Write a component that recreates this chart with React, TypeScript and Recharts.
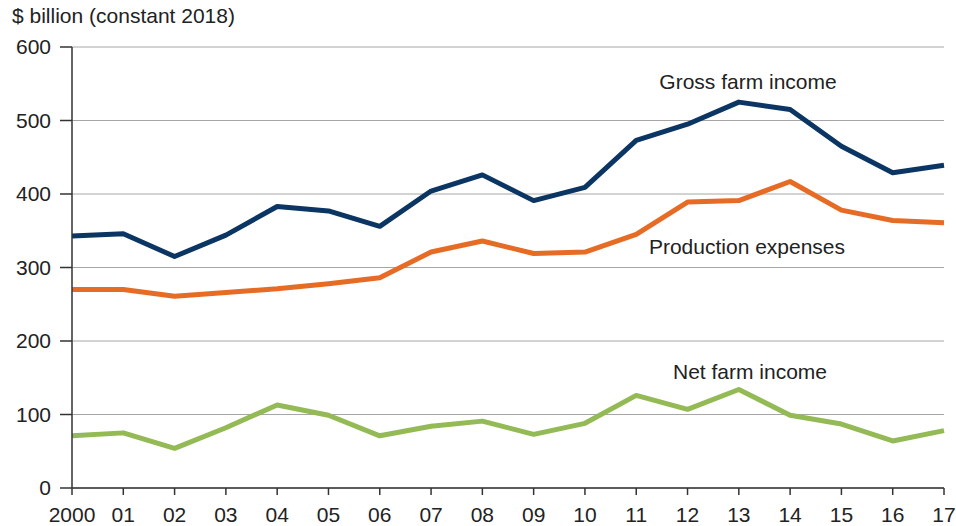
import { LineChart, Line, XAxis, YAxis, CartesianGrid } from "recharts"

const years = ["2000", "01", "02", "03", "04", "05", "06", "07", "08", "09", "10", "11", "12", "13", "14", "15", "16", "17"]
const grossFarmIncome = [343, 346, 315, 344, 383, 377, 356, 404, 426, 391, 409, 473, 495, 525, 515, 465, 429, 439]
const productionExpenses = [270, 270, 261, 266, 271, 278, 286, 321, 336, 319, 321, 345, 389, 391, 417, 378, 364, 361]
const netFarmIncome = [71, 75, 54, 82, 113, 99, 71, 84, 91, 73, 88, 126, 107, 134, 99, 87, 64, 78]
const yTicks = [0, 100, 200, 300, 400, 500, 600]

const data = years.map((year, i) => ({
  year,
  gross: grossFarmIncome[i],
  expenses: productionExpenses[i],
  net: netFarmIncome[i],
}))

const font = "'Liberation Sans', Arial, sans-serif"
const textColor = "#222"
const fontSize = 21

function SeriesLabel({ text, cx, baseline }: { text: string; cx: number; baseline: number }) {
  return (
    <div
      style={{
        position: "absolute",
        left: cx - 150,
        width: 300,
        top: baseline - 18,
        textAlign: "center",
        fontFamily: font,
        fontSize,
        lineHeight: "21px",
        color: textColor,
        whiteSpace: "nowrap",
      }}
    >
      {text}
    </div>
  )
}

export default function App() {
  return (
    <div style={{ position: "absolute", left: 0, top: 0, width: 956, height: 526, background: "#fff", overflow: "hidden" }}>
      <LineChart width={956} height={526} data={data} margin={{ top: 47, right: 12, left: 0, bottom: 0 }}>
        <CartesianGrid vertical={false} stroke="#a6a6a6" strokeWidth={1} />
        <XAxis
          dataKey="year"
          height={38}
          interval={0}
          tickSize={7}
          tickMargin={12}
          axisLine={{ stroke: "#333", strokeWidth: 1.5 }}
          tickLine={{ stroke: "#333", strokeWidth: 1.5 }}
          tick={{ fill: textColor, fontSize, fontFamily: font }}
        />
        <YAxis
          width={72}
          domain={[0, 600]}
          ticks={yTicks}
          interval={0}
          tickSize={12}
          tickMargin={9}
          axisLine={{ stroke: "#333", strokeWidth: 1.5 }}
          tickLine={{ stroke: "#333", strokeWidth: 1.5 }}
          tick={{ fill: textColor, fontSize, fontFamily: font }}
        />
        <Line dataKey="gross" stroke="#0b3563" strokeWidth={5} dot={false} isAnimationActive={false} strokeLinejoin="round" />
        <Line dataKey="expenses" stroke="#e66c26" strokeWidth={5} dot={false} isAnimationActive={false} strokeLinejoin="round" />
        <Line dataKey="net" stroke="#93ba55" strokeWidth={5} dot={false} isAnimationActive={false} strokeLinejoin="round" />
      </LineChart>
      <div
        style={{
          position: "absolute",
          left: 12,
          top: 5,
          fontFamily: font,
          fontSize,
          lineHeight: "21px",
          color: textColor,
          whiteSpace: "nowrap",
        }}
      >
        $ billion (constant 2018)
      </div>
      <SeriesLabel text="Gross farm income" cx={748} baseline={89} />
      <SeriesLabel text="Production expenses" cx={747} baseline={254} />
      <SeriesLabel text="Net farm income" cx={750} baseline={379} />
    </div>
  )
}
